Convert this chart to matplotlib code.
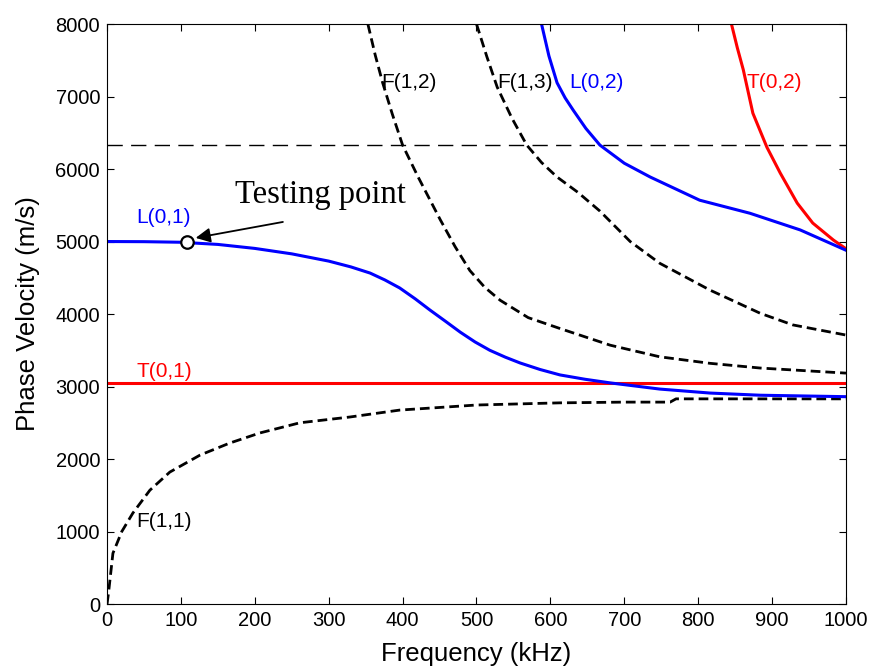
import matplotlib
matplotlib.use('Agg')
from matplotlib import pyplot as plt
from matplotlib import rcParams

rcParams['font.family'] = ['Liberation Sans', 'DejaVu Sans']
rcParams['font.size'] = 14.5

# дисперсионные кривые: частота (кГц), фазовая скорость (м/с)
l01_f = [0, 50, 100, 150, 200, 250, 300, 330, 356, 376, 396, 417, 437, 458, 478, 498, 518, 539, 559, 586, 613, 647, 681, 748, 816, 884, 1000]
l01_v = [5000, 4998, 4990, 4960, 4905, 4830, 4730, 4650, 4565, 4470, 4360, 4210, 4055, 3900, 3750, 3615, 3500, 3405, 3325, 3235, 3160, 3100, 3050, 2965, 2910, 2880, 2860]

t01_f = [0, 1000]
t01_v = [3045, 3045]

f11_f = [0, 2, 8, 20, 35, 58, 85, 126, 166, 207, 261, 329, 396, 500, 613, 700, 762, 770, 1000]
f11_v = [0, 150, 700, 1000, 1255, 1570, 1820, 2055, 2220, 2360, 2500, 2580, 2675, 2745, 2775, 2785, 2785, 2830, 2830]

f12_f = [353, 363, 373, 386, 400, 421, 451, 471, 491, 511, 532, 570, 613, 681, 748, 816, 884, 1000]
f12_v = [8000, 7570, 7190, 6760, 6330, 5890, 5300, 4930, 4600, 4370, 4190, 3950, 3800, 3570, 3410, 3320, 3255, 3185]

f13_f = [500, 514, 528, 548, 568, 588, 609, 637, 667, 708, 748, 816, 884, 928, 1000]
f13_v = [8000, 7550, 7130, 6700, 6330, 6090, 5890, 5680, 5420, 5000, 4700, 4330, 4010, 3850, 3710]

l02_f = [588, 598, 609, 620, 631, 648, 667, 700, 735, 802, 870, 938, 1000]
l02_v = [8000, 7560, 7190, 6980, 6810, 6560, 6330, 6080, 5890, 5570, 5390, 5160, 4880]

t02_f = [845, 853, 861, 874, 893, 911, 934, 955, 983, 1000]
t02_v = [8000, 7670, 7370, 6770, 6300, 5945, 5530, 5255, 5020, 4900]

# продольная скорость звука в материале
bulk_v = 6330

# точка измерения
test_f, test_v = 108, 4993

fig = plt.figure(figsize=(8.7, 6.71), dpi=100)
ax = fig.add_axes([0.123, 0.0998, 0.8494, 0.8644])

dash = (0, (3.5, 1.8))
ax.plot(f11_f, f11_v, c='k', lw=2, ls=dash)
ax.plot(f12_f, f12_v, c='k', lw=2, ls=dash)
ax.plot(f13_f, f13_v, c='k', lw=2, ls=dash)
ax.plot(t01_f, t01_v, c='r', lw=2.2)
ax.plot(t02_f, t02_v, c='r', lw=2.2)
ax.plot(l01_f, l01_v, c='b', lw=2.2)
ax.plot(l02_f, l02_v, c='b', lw=2.2)
ax.axhline(bulk_v, c='k', lw=1, ls=(0, (11, 6)))

ax.plot(test_f, test_v, 'o', ms=9, mfc='w', mec='k', mew=1.6, zorder=5)
ax.annotate('', (120, 5050), (238, 5270),
            arrowprops=dict(arrowstyle='-|>', color='k', lw=1.3,
                            mutation_scale=22, shrinkA=0, shrinkB=0))
ax.text(173, 5530, 'Testing point', fontsize=23.5, family=['Liberation Serif'])

ax.text(40, 5260, 'L(0,1)', color='b', fontsize=15)
ax.text(40, 3130, 'T(0,1)', color='r', fontsize=15)
ax.text(40, 1060, 'F(1,1)', color='k', fontsize=15)
ax.text(371, 7120, 'F(1,2)', color='k', fontsize=15)
ax.text(528, 7120, 'F(1,3)', color='k', fontsize=15)
ax.text(626, 7120, 'L(0,2)', color='b', fontsize=15)
ax.text(866, 7120, 'T(0,2)', color='r', fontsize=15)

ax.set_xlim(0, 1000)
ax.set_ylim(0, 8000)
ax.set_xticks(range(0, 1001, 100))
ax.set_yticks(range(0, 8001, 1000))
ax.tick_params(direction='in', top=True, right=True, length=5, labelsize=14.5, pad=5)
ax.set_xlabel('Frequency (kHz)', fontsize=18.5, labelpad=9)
ax.set_ylabel('Phase Velocity (m/s)', fontsize=18.5, labelpad=11)

fig.savefig('out.png', dpi=100)
